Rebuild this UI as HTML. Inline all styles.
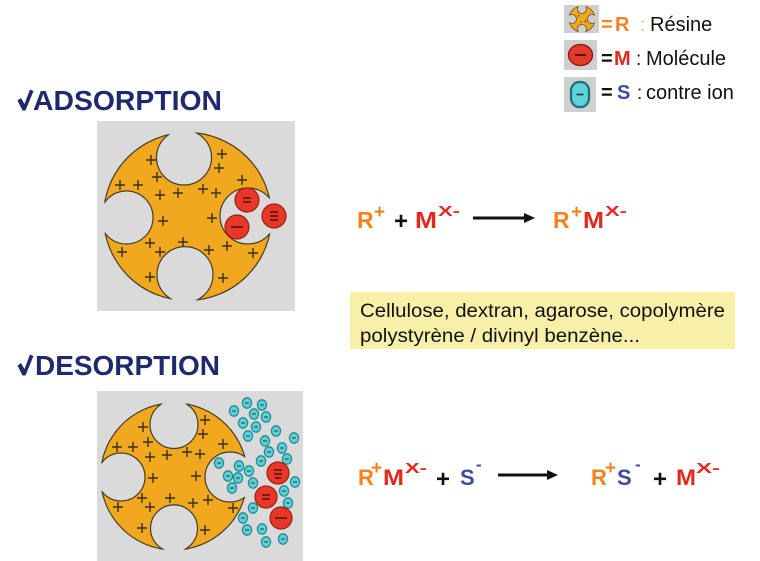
<!DOCTYPE html>
<html><head><meta charset="utf-8"><style>
html,body{margin:0;padding:0;background:#fff;}
svg{display:block;}
text{font-family:"Liberation Sans",Arial,sans-serif;}
</style></head><body>
<svg width="760" height="561" viewBox="0 0 760 561" xmlns="http://www.w3.org/2000/svg" xmlns:xlink="http://www.w3.org/1999/xlink">
<defs>
<clipPath id="ca"><circle cx="187.5" cy="216.5" r="84"/></clipPath>
<clipPath id="cd"><circle cx="174" cy="476.5" r="73.5"/></clipPath>
<clipPath id="cl"><circle cx="582" cy="19" r="13"/></clipPath>
<g id="ion"><ellipse rx="4.6" ry="5.2" fill="#62cfd6" stroke="#1f8d96" stroke-width="1.3"/><path d="M-2 0h4" stroke="#1d4f55" stroke-width="1.1"/></g>
</defs>
<rect width="760" height="561" fill="#fff"/>

<!-- Legend -->
<rect x="564" y="5" width="35" height="28" fill="#cfcfcf"/>
<circle cx="582" cy="19" r="13" fill="#f2a81e" stroke="#6a5020" stroke-width="0.8"/>
<g fill="#cfcfcf">
<circle cx="582" cy="9" r="4.5"/><circle cx="572" cy="19" r="4.5"/><circle cx="592" cy="19" r="4.5"/><circle cx="582" cy="29" r="4.5"/>
</g>
<g fill="none" stroke="#6a5020" stroke-width="0.8" clip-path="url(#cl)">
<circle cx="582" cy="9" r="4.5"/><circle cx="572" cy="19" r="4.5"/><circle cx="592" cy="19" r="4.5"/><circle cx="582" cy="29" r="4.5"/>
</g>
<path d="M577 16h3M578.5 14.5v3M584 21h3M585.5 19.5v3M580 22h2M581 21v2" stroke="#6a5020" stroke-width="0.6"/>

<rect x="564" y="40" width="33" height="30" fill="#cfcfcf"/>
<ellipse cx="580.5" cy="55" rx="12" ry="10.5" fill="#e5372a" stroke="#8e1c10" stroke-width="1.4"/>
<path d="M575 55h11" stroke="#2a0a05" stroke-width="1.6"/>

<rect x="564" y="77" width="32" height="35" fill="#cfcfcf"/>
<rect x="571" y="82" width="18" height="25" rx="8" ry="9" fill="#5fd3da" stroke="#1d6f78" stroke-width="2.2"/>
<path d="M576.5 94.5h7" stroke="#1a3e44" stroke-width="1.6"/>

<text x="601" y="31" font-size="20" font-weight="bold" fill="#f5821f">=</text>
<text x="615" y="31" font-size="20" font-weight="bold" fill="#f5821f">R</text>
<text x="640" y="31" font-size="19" fill="#f5b070">:</text>
<text x="650" y="31" font-size="20" fill="#111">Résine</text>

<text x="601" y="65" font-size="20" font-weight="bold" fill="#111">=</text>
<text x="614" y="65" font-size="20" font-weight="bold" fill="#e4281c">M</text>
<text x="636" y="65" font-size="19" fill="#111">:</text>
<text x="646" y="65" font-size="20" fill="#111">Molécule</text>

<text x="601" y="99" font-size="20" font-weight="bold" fill="#111">=</text>
<text x="617" y="99" font-size="20" font-weight="bold" fill="#3e4c9e">S</text>
<text x="637" y="99" font-size="19" fill="#111">:</text>
<text x="646" y="99" font-size="20" fill="#111">contre ion</text>

<!-- Titles -->
<polygon points="17.5,100.5 21,98 24.5,104 30,89.5 33.5,91 25.5,110.5 22.5,110.5" fill="#1f2a6e"/>
<text x="33" y="110" font-size="28" font-weight="bold" fill="#1f2a6e" textLength="189" lengthAdjust="spacingAndGlyphs">ADSORPTION</text>
<polygon points="17.5,365.5 21,363 24.5,369 30,354.5 33.5,356 25.5,375.5 22.5,375.5" fill="#1f2a6e"/>
<text x="35" y="375" font-size="28" font-weight="bold" fill="#1f2a6e" textLength="185" lengthAdjust="spacingAndGlyphs">DESORPTION</text>

<!-- Adsorption picture -->
<rect x="97" y="121" width="198" height="190" fill="#dadada"/>
<circle cx="187.5" cy="216.5" r="84" fill="#f0a91f" stroke="#4a3c22" stroke-width="1.2"/>
<g fill="#dadada">
<circle cx="184" cy="157.5" r="27.5"/><circle cx="126.5" cy="217.5" r="26.5"/><circle cx="248" cy="216" r="28"/><circle cx="185" cy="274.6" r="28"/>
</g>
<g fill="none" stroke="#4a3c22" stroke-width="1.2" clip-path="url(#ca)">
<circle cx="184" cy="157.5" r="27.5"/><circle cx="126.5" cy="217.5" r="26.5"/><circle cx="248" cy="216" r="28"/><circle cx="185" cy="274.6" r="28"/>
</g>
<path stroke="#3a2e18" stroke-width="1.4" fill="none" d="M146 160h10M151 155v10M217 154h10M222 149v10M214 168h10M219 163v10M152 177h10M157 172v10M115 185h10M120 180v10M133 185h10M138 180v10M237 180h10M242 175v10M155 195h10M160 190v10M173 193h10M178 188v10M198 189h10M203 184v10M211 193h10M216 188v10M158 221h10M163 216v10M207 218h10M212 213v10M145 243h10M150 238v10M178 242h10M183 237v10M155 252h10M160 247v10M117 252h10M122 247v10M204 250h10M209 245v10M222 246h10M227 241v10M248 253h10M253 248v10M145 277h10M150 272v10M218 278h10M223 273v10"/>
<g fill="#e5372a" stroke="#a0200f" stroke-width="1.2">
<circle cx="247" cy="200" r="12"/><circle cx="237" cy="227" r="12"/><circle cx="274" cy="216" r="12"/>
</g>
<path stroke="#3a0a05" stroke-width="1.2" d="M243 198h8M243 202h8M231 227h12M270 212h8M270 216h8M270 220h8"/>

<!-- Reaction 1 -->
<text x="357" y="228" font-size="23" font-weight="bold" fill="#f5821f">R</text>
<text x="374" y="218" font-size="19" font-weight="bold" fill="#f5821f">+</text>
<text x="394" y="229" font-size="24" font-weight="bold" fill="#111">+</text>
<text x="415" y="228" font-size="23" font-weight="bold" fill="#e4281c" textLength="22" lengthAdjust="spacingAndGlyphs">M</text>
<text x="438" y="216" font-size="15" font-weight="bold" fill="#e4281c" textLength="22" lengthAdjust="spacingAndGlyphs">X-</text>
<path d="M473 218H526" stroke="#111" stroke-width="3"/>
<polygon points="524,213 535,218 524,223" fill="#111"/>
<text x="553" y="228" font-size="23" font-weight="bold" fill="#f5821f">R</text>
<text x="571" y="218" font-size="19" font-weight="bold" fill="#f5821f">+</text>
<text x="583" y="228" font-size="23" font-weight="bold" fill="#e4281c" textLength="21" lengthAdjust="spacingAndGlyphs">M</text>
<text x="605" y="216" font-size="15" font-weight="bold" fill="#e4281c" textLength="22" lengthAdjust="spacingAndGlyphs">X-</text>

<!-- Yellow box -->
<rect x="350" y="292" width="385" height="57" fill="#f8f0a8"/>
<text x="360" y="317" font-size="19" fill="#111" textLength="365" lengthAdjust="spacingAndGlyphs">Cellulose, dextran, agarose, copolymère</text>
<text x="360" y="342" font-size="19" fill="#111" textLength="280" lengthAdjust="spacingAndGlyphs">polystyrène / divinyl benzène...</text>

<!-- Desorption picture -->
<rect x="97" y="391" width="206" height="170" fill="#dadada"/>
<circle cx="174" cy="476.5" r="73.5" fill="#f0a91f" stroke="#4a3c22" stroke-width="1.2"/>
<g fill="#dadada">
<circle cx="174" cy="424.5" r="24"/><circle cx="121" cy="477" r="24"/><circle cx="230" cy="477" r="25"/><circle cx="174" cy="528.4" r="23.5"/>
</g>
<g fill="none" stroke="#4a3c22" stroke-width="1.2" clip-path="url(#cd)">
<circle cx="174" cy="424.5" r="24"/><circle cx="121" cy="477" r="24"/><circle cx="230" cy="477" r="25"/><circle cx="174" cy="528.4" r="23.5"/>
</g>
<path stroke="#3a2e18" stroke-width="1.4" fill="none" d="M138 427h10M143 422v10M200 420h10M205 415v10M198 434h10M203 429v10M143 442h10M148 437v10M112 447h10M117 442v10M128 447h10M133 442v10M218 444h10M223 439v10M145 457h10M150 452v10M162 455h10M167 450v10M182 452h10M187 447v10M195 454h10M200 449v10M148 478h10M153 473v10M191 476h10M196 471v10M137 498h10M142 493v10M165 498h10M170 493v10M145 507h10M150 502v10M113 507h10M118 502v10M188 503h10M193 498v10M203 500h10M208 495v10M228 508h10M233 503v10M137 528h10M142 523v10M200 530h10M205 525v10"/>
<g>
<use xlink:href="#ion" x="234" y="411"/><use xlink:href="#ion" x="247" y="403"/><use xlink:href="#ion" x="262" y="405"/>
<use xlink:href="#ion" x="254" y="414"/><use xlink:href="#ion" x="266" y="417"/><use xlink:href="#ion" x="243" y="423"/>
<use xlink:href="#ion" x="256" y="427"/><use xlink:href="#ion" x="276" y="431"/><use xlink:href="#ion" x="248" y="436"/>
<use xlink:href="#ion" x="294" y="438"/><use xlink:href="#ion" x="265" y="441"/><use xlink:href="#ion" x="282" y="448"/>
<use xlink:href="#ion" x="269" y="452"/><use xlink:href="#ion" x="287" y="459"/><use xlink:href="#ion" x="261" y="461"/>
<use xlink:href="#ion" x="219" y="463"/><use xlink:href="#ion" x="239" y="466"/><use xlink:href="#ion" x="249" y="471"/>
<use xlink:href="#ion" x="228" y="476"/><use xlink:href="#ion" x="238" y="478"/><use xlink:href="#ion" x="253" y="483"/>
<use xlink:href="#ion" x="295" y="482"/><use xlink:href="#ion" x="232" y="488"/><use xlink:href="#ion" x="284" y="491"/>
<use xlink:href="#ion" x="288" y="503"/><use xlink:href="#ion" x="253" y="508"/><use xlink:href="#ion" x="243" y="518"/>
<use xlink:href="#ion" x="247" y="530"/><use xlink:href="#ion" x="262" y="529"/><use xlink:href="#ion" x="266" y="542"/>
<use xlink:href="#ion" x="283" y="539"/>
</g>
<g fill="#e5372a" stroke="#a0200f" stroke-width="1.2">
<circle cx="278" cy="473" r="11"/><circle cx="266" cy="497" r="11"/><circle cx="281" cy="518" r="11"/>
</g>
<path stroke="#3a0a05" stroke-width="1.2" d="M274 470h8M274 474h8M275 478h6M262 495h8M262 499h8M275 518h12"/>

<!-- Reaction 2 -->
<text x="358" y="485" font-size="22" font-weight="bold" fill="#f5821f">R</text>
<text x="371" y="474" font-size="19" font-weight="bold" fill="#f5821f">+</text>
<text x="383" y="485" font-size="22" font-weight="bold" fill="#e4281c" textLength="21" lengthAdjust="spacingAndGlyphs">M</text>
<text x="405" y="473" font-size="15" font-weight="bold" fill="#e4281c" textLength="22" lengthAdjust="spacingAndGlyphs">X-</text>
<text x="436" y="487" font-size="24" font-weight="bold" fill="#111">+</text>
<text x="460" y="485" font-size="22" font-weight="bold" fill="#3e4c9e">S</text>
<text x="476" y="470" font-size="17" font-weight="bold" fill="#3e4c9e">-</text>
<path d="M498 475H549" stroke="#111" stroke-width="3"/>
<polygon points="547,470 558,475 547,480" fill="#111"/>
<text x="591" y="485" font-size="22" font-weight="bold" fill="#f5821f">R</text>
<text x="605" y="474" font-size="19" font-weight="bold" fill="#f5821f">+</text>
<text x="617" y="485" font-size="22" font-weight="bold" fill="#3e4c9e">S</text>
<text x="635" y="470" font-size="17" font-weight="bold" fill="#3e4c9e">-</text>
<text x="653" y="487" font-size="24" font-weight="bold" fill="#111">+</text>
<text x="676" y="485" font-size="22" font-weight="bold" fill="#e4281c" textLength="20" lengthAdjust="spacingAndGlyphs">M</text>
<text x="696" y="473" font-size="15" font-weight="bold" fill="#e4281c" textLength="24" lengthAdjust="spacingAndGlyphs">X-</text>
</svg>
</body></html>
